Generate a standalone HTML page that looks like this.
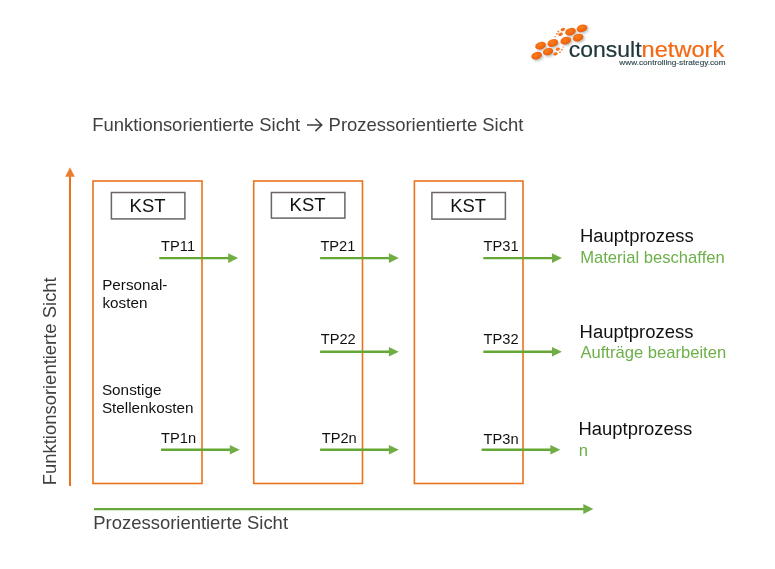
<!DOCTYPE html>
<html>
<head>
<meta charset="utf-8">
<title>Funktionsorientierte Sicht – Prozessorientierte Sicht</title>
<style>
html,body{margin:0;padding:0;background:#fff;}
body{width:775px;height:569px;overflow:hidden;position:relative;font-family:"Liberation Sans",sans-serif;}
svg{position:absolute;left:0;top:0;display:block;will-change:transform;}
text{font-family:"Liberation Sans",sans-serif;}
.t18{font-size:18.45px;}
.t14{font-size:14.67px;}
.t16{font-size:16.6px;}
.gray{fill:#404040;}
.blk{fill:#111;}
.grn{fill:#6db04a;}
</style>
</head>
<body>
<svg width="775" height="569" viewBox="0 0 775 569">
<defs>
  <radialGradient id="dot" cx="45%" cy="35%" r="75%">
    <stop offset="0" stop-color="#fb7e1f"/>
    <stop offset="0.6" stop-color="#f1680f"/>
    <stop offset="1" stop-color="#d65206"/>
  </radialGradient>
  <filter id="sh" x="-30%" y="-30%" width="180%" height="200%">
    <feGaussianBlur stdDeviation="0.9"/>
  </filter>
</defs>

<!-- ===== LOGO ===== -->
<g id="logo">
  <g id="logo-shadow" fill="#9a9a9a" opacity="0.55" filter="url(#sh)" transform="translate(1.6,1.6)">
    <ellipse cx="582.0" cy="28.3" rx="5.45" ry="3.7" transform="rotate(-17 582 28.3)"/>
    <ellipse cx="570.5" cy="31.7" rx="5.45" ry="3.7" transform="rotate(-17 570.5 31.7)"/>
    <ellipse cx="578.1" cy="37.6" rx="5.45" ry="3.7" transform="rotate(-17 578.1 37.6)"/>
    <ellipse cx="565.8" cy="40.6" rx="5.45" ry="3.7" transform="rotate(-17 565.8 40.6)"/>
    <ellipse cx="552.8" cy="43.0" rx="5.45" ry="3.7" transform="rotate(-17 552.8 43)"/>
    <ellipse cx="540.6" cy="45.7" rx="5.45" ry="3.7" transform="rotate(-17 540.6 45.7)"/>
    <ellipse cx="548.0" cy="51.6" rx="5.2" ry="3.6" transform="rotate(-17 548 51.6)"/>
    <ellipse cx="536.6" cy="55.7" rx="5.45" ry="3.7" transform="rotate(-17 536.6 55.7)"/>
  </g>
  <g id="logo-dots" fill="url(#dot)">
    <ellipse cx="582.0" cy="28.3" rx="5.45" ry="3.7" transform="rotate(-17 582 28.3)"/>
    <ellipse cx="570.5" cy="31.7" rx="5.45" ry="3.7" transform="rotate(-17 570.5 31.7)"/>
    <ellipse cx="578.1" cy="37.6" rx="5.45" ry="3.7" transform="rotate(-17 578.1 37.6)"/>
    <ellipse cx="565.8" cy="40.6" rx="5.45" ry="3.7" transform="rotate(-17 565.8 40.6)"/>
    <ellipse cx="552.8" cy="43.0" rx="5.45" ry="3.7" transform="rotate(-17 552.8 43)"/>
    <ellipse cx="540.6" cy="45.7" rx="5.45" ry="3.7" transform="rotate(-17 540.6 45.7)"/>
    <ellipse cx="548.0" cy="51.6" rx="5.2" ry="3.6" transform="rotate(-17 548 51.6)"/>
    <ellipse cx="536.6" cy="55.7" rx="5.45" ry="3.7" transform="rotate(-17 536.6 55.7)"/>
    <!-- small dots -->
    <ellipse cx="562.8" cy="29.5" rx="2.3" ry="1.6" transform="rotate(-17 562.8 29.5)"/>
    <ellipse cx="560.5" cy="34.3" rx="2.3" ry="1.6" transform="rotate(-17 560.5 34.3)"/>
    <ellipse cx="558.3" cy="31.6" rx="1.0" ry="0.8"/>
    <ellipse cx="556.9" cy="33.7" rx="1.0" ry="0.8"/>
    <ellipse cx="555.1" cy="36.7" rx="0.7" ry="0.6"/>
    <ellipse cx="557.8" cy="49.1" rx="2.1" ry="1.4" transform="rotate(-17 557.8 49.1)"/>
    <ellipse cx="555.5" cy="53.9" rx="2.2" ry="1.5" transform="rotate(-17 555.5 53.9)"/>
    <ellipse cx="561.9" cy="49.8" rx="1.0" ry="0.8"/>
    <ellipse cx="560.0" cy="52.3" rx="1.0" ry="0.8"/>
    <ellipse cx="563.2" cy="47.1" rx="0.6" ry="0.5"/>
  </g>
  <text x="568.8" y="57.3" font-size="21.8" fill="#20383d" stroke="#20383d" stroke-width="0.22" textLength="72.8" lengthAdjust="spacingAndGlyphs">consult</text>
  <text x="641.6" y="57.3" font-size="21.8" fill="#f36a14" stroke="#f36a14" stroke-width="0.22" textLength="82.6" lengthAdjust="spacingAndGlyphs">network</text>
  <text x="619.3" y="65.25" font-size="7.3" fill="#2e454c" stroke="#2e454c" stroke-width="0.12" textLength="106.2" lengthAdjust="spacingAndGlyphs">www.controlling-strategy.com</text>
</g>

<!-- ===== TITLE ===== -->
<text class="t18 gray" x="92.2" y="131.3">Funktionsorientierte Sicht</text>
<g stroke="#404040" stroke-width="1.5" fill="none" stroke-linecap="butt" stroke-linejoin="miter">
  <path d="M307 124.9H321.6M315.4 118.7L321.8 124.9L315.4 131.1"/>
</g>
<text class="t18 gray" x="328.6" y="131.3">Prozessorientierte Sicht</text>

<!-- ===== AXES ===== -->
<line x1="70" y1="486" x2="70" y2="175" stroke="#e9721f" stroke-width="2"/>
<path d="M70 167.2L65.2 176.8H74.8Z" fill="#ed7d31"/>
<line x1="94" y1="509.1" x2="584" y2="509.1" stroke="#66a838" stroke-width="2.2"/>
<path d="M593.3 509.1L583.3 504.1V514.1Z" fill="#70ad47"/>

<text class="t18 gray" transform="translate(56.3,485.3) rotate(-90)">Funktionsorientierte Sicht</text>
<text class="t18 gray" x="93.3" y="529">Prozessorientierte Sicht</text>

<!-- ===== BOXES ===== -->
<g fill="none" stroke="#e9721f" stroke-width="1.6">
  <rect x="93" y="181" width="109" height="302.5"/>
  <rect x="253.7" y="181" width="108.8" height="302.5"/>
  <rect x="414.4" y="181" width="108.6" height="302.5"/>
</g>
<g fill="#fff" stroke="#6b6565" stroke-width="1.5">
  <rect x="111.4" y="192.5" width="73.5" height="26.4"/>
  <rect x="271.4" y="192.5" width="73.5" height="25.6"/>
  <rect x="431.9" y="192.5" width="73.5" height="26.6"/>
</g>
<text class="t18 blk" x="129.6" y="212.4">KST</text>
<text class="t18 blk" x="289.6" y="211.4">KST</text>
<text class="t18 blk" x="450.2" y="212.3">KST</text>

<!-- ===== ARROWS ===== -->
<g stroke="#64a735" stroke-width="2.4">
  <line x1="159.3" y1="258.1" x2="230" y2="258.1"/>
  <line x1="320.1" y1="258.1" x2="390" y2="258.1"/>
  <line x1="483.3" y1="258.1" x2="553" y2="258.1"/>
  <line x1="320.1" y1="351.7" x2="390" y2="351.7"/>
  <line x1="483.3" y1="351.7" x2="553" y2="351.7"/>
  <line x1="161" y1="449.8" x2="231" y2="449.8"/>
  <line x1="320.1" y1="449.8" x2="390" y2="449.8"/>
  <line x1="481.6" y1="449.8" x2="552" y2="449.8"/>
</g>
<g fill="#70ad47">
  <path d="M238.1 258.1l-9.9-4.8v9.6z"/>
  <path d="M398.8 258.1l-9.9-4.8v9.6z"/>
  <path d="M561.9 258.1l-9.9-4.8v9.6z"/>
  <path d="M398.8 351.7l-9.9-4.8v9.6z"/>
  <path d="M561.9 351.7l-9.9-4.8v9.6z"/>
  <path d="M239.7 449.8l-9.9-4.8v9.6z"/>
  <path d="M398.8 449.8l-9.9-4.8v9.6z"/>
  <path d="M560.3 449.8l-9.9-4.8v9.6z"/>
</g>

<!-- ===== LABELS ===== -->
<g class="t14 blk">
  <text x="161.1" y="251.4">TP11</text>
  <text x="320.4" y="251.4">TP21</text>
  <text x="483.6" y="251.4">TP31</text>
  <text x="320.7" y="344.4">TP22</text>
  <text x="483.6" y="343.9">TP32</text>
  <text x="161.1" y="443.2">TP1n</text>
  <text x="321.7" y="443.2">TP2n</text>
  <text x="483.6" y="443.5">TP3n</text>
  <text x="102.2" y="290.3" textLength="65.2" lengthAdjust="spacingAndGlyphs">Personal-</text>
  <text x="102.4" y="308" textLength="45" lengthAdjust="spacingAndGlyphs">kosten</text>
  <text x="101.9" y="394.6" textLength="59.6" lengthAdjust="spacingAndGlyphs">Sonstige</text>
  <text x="101.9" y="412.6" textLength="91.6" lengthAdjust="spacingAndGlyphs">Stellenkosten</text>
</g>

<text class="t18 blk" x="580" y="242.4">Hauptprozess</text>
<text class="t16 grn" x="580.2" y="263.2">Material beschaffen</text>
<text class="t18 blk" x="579.6" y="337.6">Hauptprozess</text>
<text class="t16 grn" x="580.4" y="358.4">Aufträge bearbeiten</text>
<text class="t18 blk" x="578.5" y="434.6">Hauptprozess</text>
<text class="t16 grn" x="578.8" y="456.1">n</text>
</svg>
</body>
</html>
